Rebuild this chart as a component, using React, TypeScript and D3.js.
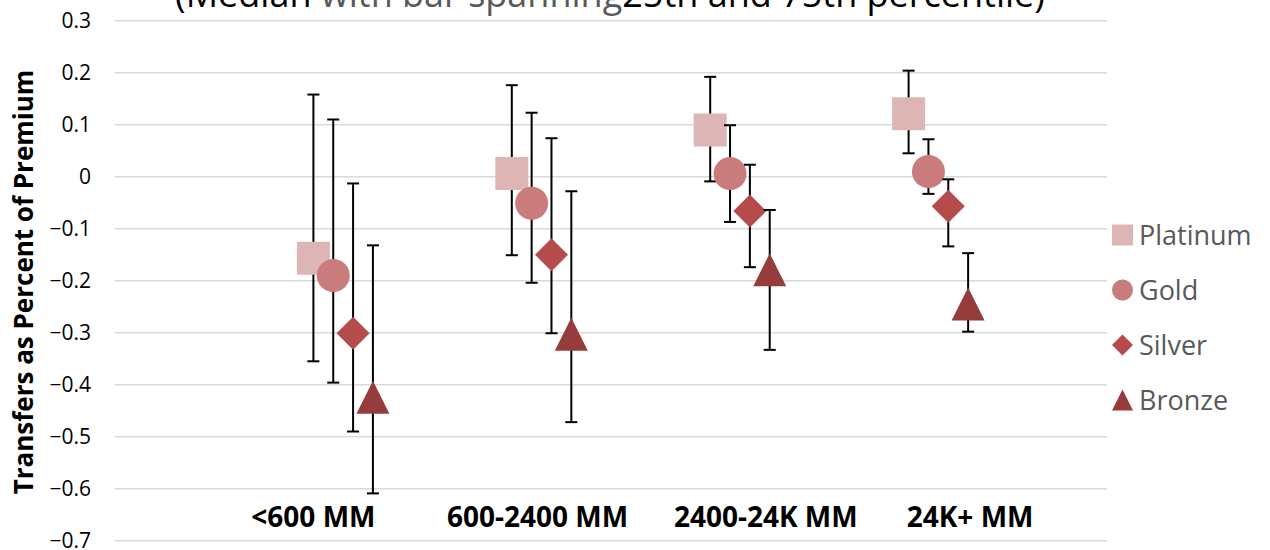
import React from "react";
import * as d3 from "d3";

const categories = ["<600 MM", "600-2400 MM", "2400-24K MM", "24K+ MM"];
const categoryLabelX = [1.0, 2.13, 3.28, 4.31];
const seriesNames = ["Platinum", "Gold", "Silver", "Bronze"];
const seriesColors = ["#DEB5B5", "#CA7B7B", "#B64B4B", "#963C3C"];
const seriesShapes = ["square", "circle", "diamond", "triangle"];

const medianPlatinum = [-0.157, 0.006, 0.09, 0.121];
const medianGold = [-0.19, -0.051, 0.006, 0.01];
const medianSilver = [-0.301, -0.15, -0.066, -0.057];
const medianBronze = [-0.424, -0.303, -0.179, -0.245];

const p75Platinum = [0.158, 0.176, 0.192, 0.204];
const p75Gold = [0.11, 0.123, 0.099, 0.072];
const p75Silver = [-0.013, 0.074, 0.023, -0.005];
const p75Bronze = [-0.132, -0.028, -0.064, -0.147];

const p25Platinum = [-0.355, -0.151, -0.009, 0.045];
const p25Gold = [-0.396, -0.204, -0.087, -0.033];
const p25Silver = [-0.49, -0.301, -0.174, -0.134];
const p25Bronze = [-0.609, -0.472, -0.333, -0.298];

const yTicks = [0.3, 0.2, 0.1, 0, -0.1, -0.2, -0.3, -0.4, -0.5, -0.6, -0.7];

const medians = [medianPlatinum, medianGold, medianSilver, medianBronze];
const p75s = [p75Platinum, p75Gold, p75Silver, p75Bronze];
const p25s = [p25Platinum, p25Gold, p25Silver, p25Bronze];

const FONT = "'Open Sans', 'Segoe UI', sans-serif";

function markerPath(shape: string, cx: number, cy: number, s: number): string {
  const h = s / 2;
  if (shape === "square") return `M${cx - h},${cy - h}h${s}v${s}h${-s}Z`;
  if (shape === "diamond") return `M${cx},${cy - h}L${cx + h},${cy}L${cx},${cy + h}L${cx - h},${cy}Z`;
  if (shape === "triangle") return `M${cx},${cy - h}L${cx + h},${cy + h}L${cx - h},${cy + h}Z`;
  return `M${cx - h},${cy}a${h},${h} 0 1,0 ${s},0a${h},${h} 0 1,0 ${-s},0Z`;
}

export default function App() {
  const x = d3.scaleLinear().domain([0, 5]).range([115, 1107]);
  const y = d3.scaleLinear().domain([-0.7, 0.3]).range([540.7, 20.7]);
  const fmt = (v: number) => (Math.abs(v) < 1e-9 ? "0" : d3.format(".1f")(v));
  const markerSize = 33;
  const cap = 6;

  return (
    <svg
      width={1270}
      height={550}
      style={{ position: "absolute", left: 0, top: 0, background: "#fff" }}
      fontFamily={FONT}
    >
      {/* title (clipped at top, as in the reference) */}
      <text x={610} y={7} textAnchor="middle" fontSize={36} fill="#000">
        <tspan>(Median </tspan>
        <tspan fill="#595959">with bar spanning</tspan>
        <tspan>25th and 75th percentile)</tspan>
      </text>

      {/* gridlines */}
      {yTicks.map((t) => (
        <line key={"g" + t} x1={x(0)} x2={x(5)} y1={y(t)} y2={y(t)} stroke="#D9D9D9" strokeWidth={1.5} />
      ))}
      {/* y tick labels */}
      {yTicks.map((t) => (
        <text key={"t" + t} x={91} y={y(t) + 7.3} textAnchor="end" fontSize={21} fill="#000">
          {fmt(t)}
        </text>
      ))}

      {/* y axis title */}
      <text
        transform={`translate(33,282) rotate(-90)`}
        textAnchor="middle"
        fontSize={26}
        fontWeight="bold"
        fill="#000"
      >
        Transfers as Percent of Premium
      </text>

      {/* category labels */}
      {categories.map((c, i) => (
        <text key={c} x={x(categoryLabelX[i])} y={527} textAnchor="middle" fontSize={28} fontWeight="bold" fill="#000">
          {c}
        </text>
      ))}

      {/* series */}
      {seriesNames.map((name, s) => (
        <g key={name}>
          {categories.map((c, i) => {
            const cx = x(i + 1 + s * 0.1);
            return (
              <g key={c}>
                <line x1={cx} x2={cx} y1={y(p75s[s][i])} y2={y(p25s[s][i])} stroke="#000" strokeWidth={2} />
                <line x1={cx - cap} x2={cx + cap} y1={y(p75s[s][i])} y2={y(p75s[s][i])} stroke="#000" strokeWidth={2} />
                <line x1={cx - cap} x2={cx + cap} y1={y(p25s[s][i])} y2={y(p25s[s][i])} stroke="#000" strokeWidth={2} />
              </g>
            );
          })}
          {categories.map((c, i) => {
            const cx = x(i + 1 + s * 0.1);
            return <path key={"m" + c} d={markerPath(seriesShapes[s], cx, y(medians[s][i]), markerSize)} fill={seriesColors[s]} />;
          })}
        </g>
      ))}

      {/* legend */}
      {seriesNames.map((name, s) => {
        const cy = 235 + s * 55;
        return (
          <g key={"l" + name}>
            <path d={markerPath(seriesShapes[s], 1122.5, cy, 21)} fill={seriesColors[s]} />
            <text x={1139} y={cy + 9.5} fontSize={27} fill="#595959">
              {name}
            </text>
          </g>
        );
      })}
    </svg>
  );
}
